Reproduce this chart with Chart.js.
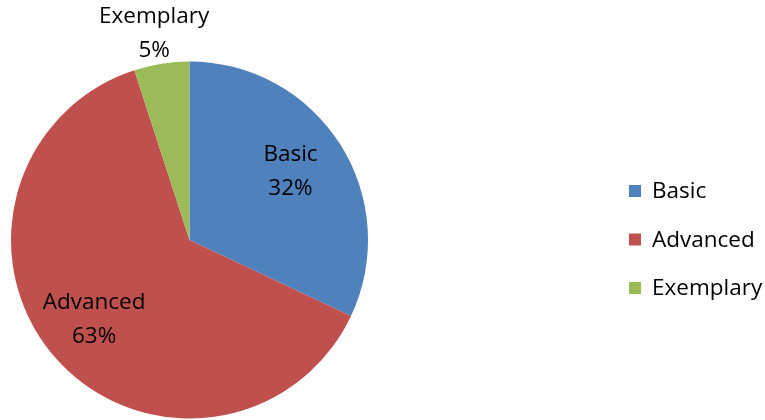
<!DOCTYPE html>
<html>
<head>
<meta charset="utf-8">
<script src="https://cdn.jsdelivr.net/npm/chart.js@4/dist/chart.umd.min.js"></script>
<style>
    html, body { margin: 0; padding: 0; background: #fff; }
    #wrap { width: 765px; height: 420px; position: relative; }
</style>
</head>
<body>
<div id="wrap"><canvas id="graficPie"></canvas></div>
<script>
const categories = ['Basic', 'Advanced', 'Exemplary'];
const percentValues = [32, 63, 5];
const sliceColors = ['#4F81BD', '#C0504D', '#9BBB59'];

const fontFamily = '"Open Sans", Calibri, sans-serif';

// etiquetes de dades dins / fora de cada sector
const etiquetesPlugin = {
    id: 'etiquetes',
    afterDatasetsDraw(chart) {
        const ctx = chart.ctx;
        const meta = chart.getDatasetMeta(0);
        const total = percentValues.reduce((a, b) => a + b, 0);
        ctx.save();
        ctx.font = '22.5px ' + fontFamily;
        ctx.fillStyle = '#000';
        ctx.textAlign = 'center';
        ctx.textBaseline = 'middle';
        meta.data.forEach((arc, i) => {
            const p = arc.getProps(['x', 'y', 'startAngle', 'endAngle', 'outerRadius'], true);
            const mid = (p.startAngle + p.endAngle) / 2;
            const pct = percentValues[i] / total * 100;
            const factor = pct < 10 ? 1.16 : 0.69;
            const cx = p.x + Math.cos(mid) * p.outerRadius * factor - 3;
            const cy = p.y + Math.sin(mid) * p.outerRadius * factor - 2;
            ctx.fillText(categories[i], cx, cy - 17);
            ctx.fillText(Math.round(pct) + '%', cx, cy + 17);
        });
        ctx.restore();
    }
};

// llegenda a la dreta
const llegendaPlugin = {
    id: 'llegenda',
    afterDraw(chart) {
        const ctx = chart.ctx;
        const colors = chart.data.datasets[0].backgroundColor;
        ctx.save();
        ctx.font = '22.5px ' + fontFamily;
        ctx.textAlign = 'left';
        ctx.textBaseline = 'middle';
        chart.data.labels.forEach((lab, i) => {
            const y = 191 + i * 48.5;
            ctx.fillStyle = colors[i];
            ctx.fillRect(629, y - 6, 12, 12);
            ctx.fillStyle = '#000';
            ctx.fillText(lab, 652, y + 1);
        });
        ctx.restore();
    }
};

const canvas = document.getElementById('graficPie');
new Chart(canvas.getContext('2d'), {
    type: 'pie',
    data: {
        labels: categories,
        datasets: [{
            data: percentValues,
            backgroundColor: sliceColors,
            borderWidth: 0
        }]
    },
    options: {
        responsive: true,
        maintainAspectRatio: false,
        animation: false,
        layout: {
            padding: { top: 61, bottom: 1, left: 11, right: 397 }
        },
        plugins: {
            legend: { display: false },
            tooltip: { enabled: false }
        }
    },
    plugins: [etiquetesPlugin, llegendaPlugin]
});
</script>
</body>
</html>
